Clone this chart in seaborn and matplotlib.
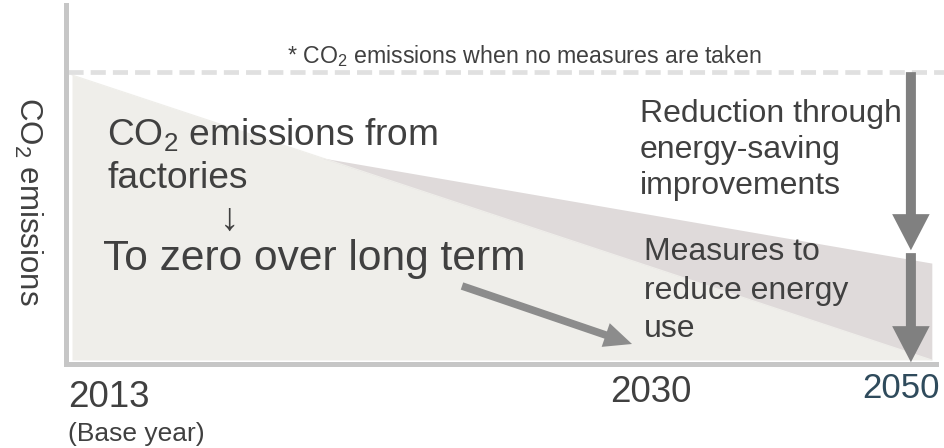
import matplotlib
matplotlib.use("Agg")
import matplotlib.pyplot as plt
import seaborn as sns

# values (emission index, 2013 = 100)
years = [2013, 2050]
factory_emissions = [100, 0]          # light area: to zero over the long term
saving_years = [2023.7, 2050]
saving_lower = [71, 0]                # purple band: energy-saving improvements
saving_upper = [71, 34]
no_measures_level = 101               # dashed line
arrow_year = 2049.1
reduction_top = [101, 38.5]
reduction_bottom = [37.5, -0.8]

tick_labels = ["2013", "2030", "2050"]

sns.set_theme(style="white")
plt.rcParams["font.family"] = ["Liberation Sans", "DejaVu Sans"]
plt.rcParams["mathtext.fontset"] = "custom"
plt.rcParams["mathtext.rm"] = "Liberation Sans"
plt.rcParams["mathtext.it"] = "Liberation Sans:italic"

W, H = 944, 448
fig = plt.figure(figsize=(W / 100, H / 100), dpi=100)
ax = fig.add_axes([65.5 / W, (H - 363.5) / H, (936 - 65.5) / W, (363.5 - 5) / H])

light = "#efeeea"
purple = "#dfdada"
txt = "#404040"

ax.fill_between(years, factory_emissions, 0, color=light, lw=0)
ax.fill_between(saving_years, saving_lower, saving_upper, color=purple, lw=0)
sns.lineplot(x=years, y=factory_emissions, ax=ax, color=light, lw=0.8)

ax.axhline(no_measures_level, xmin=0.003, xmax=1.01, color="#e0e0e0", lw=3.4,
           linestyle=(0, (3.2, 1.5)), clip_on=False)

ax.set_xlim(2012.72, 2050.18)
ax.set_ylim(-1.23, 124.56)
ax.set_xticks([])
ax.set_yticks([])
ax.set_xlabel("")
ax.set_ylabel("")
for s in ["top", "right"]:
    ax.spines[s].set_visible(False)
for s in ["left", "bottom"]:
    ax.spines[s].set_color("#c6c6c6")
    ax.spines[s].set_linewidth(3.6)

# vertical reduction arrows
big = dict(arrowstyle="simple,head_length=26,head_width=27,tail_width=7.2",
           color="#808080", mutation_scale=1, shrinkA=0, shrinkB=0, lw=0)
ax.annotate("", xy=(arrow_year, reduction_top[1]), xytext=(arrow_year, reduction_top[0]),
            arrowprops=big, annotation_clip=False)
ax.annotate("", xy=(arrow_year, reduction_bottom[1]), xytext=(arrow_year, reduction_bottom[0]),
            arrowprops=big, annotation_clip=False)

# diagonal arrow
def fpx(x, y):
    return (x / W, 1 - y / H)

ax.annotate("", xy=fpx(632, 344), xytext=fpx(462, 286), xycoords="figure fraction",
            textcoords="figure fraction",
            arrowprops=dict(arrowstyle="simple,head_length=20,head_width=18,tail_width=5.5",
                            color="#8c8c8c", mutation_scale=1, shrinkA=0, shrinkB=0, lw=0))

def t(x, y, s, size, **kw):
    kw.setdefault("color", txt)
    kw.setdefault("va", "baseline")
    kw.setdefault("ha", "left")
    fig.text(x / W, 1 - y / H, s, fontsize=size, **kw)

t(524, 63, r"* CO$_2$ emissions when no measures are taken", 16.7, ha="center")
t(28, 201, r"CO$_2$ emissions", 22.5, rotation=-90, ha="center", va="center")
t(107, 145, r"CO$_2$ emissions from", 26.7)
t(107, 188, "factories", 26.7)
t(230, 220, "\u2193", 28, ha="center", va="center")
t(103, 270, "To zero over long term", 30.6)
for i, line in enumerate(["Reduction through", "energy-saving", "improvements"]):
    t(640, 122 + 36 * i, line, 23)
for i, line in enumerate(["Measures to", "reduce energy", "use"]):
    t(644, 260 + 38.5 * i, line, 23)

t(68, 407, tick_labels[0], 26.5)
t(68, 441, "(Base year)", 19)
t(610, 402, tick_labels[1], 26.5)
t(862, 398, tick_labels[2], 25, color="#2f4b5c")

fig.savefig("out.png", dpi=100)
